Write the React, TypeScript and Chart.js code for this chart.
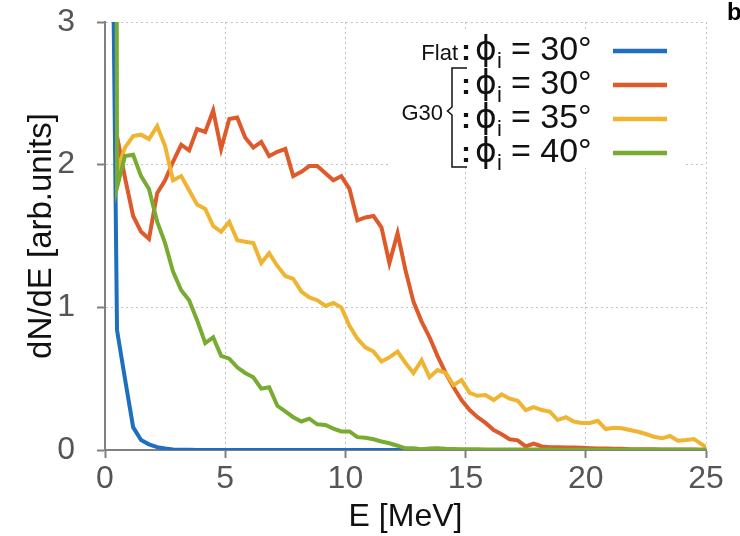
import React, { useEffect, useRef } from 'react';
import { Chart, registerables } from 'chart.js';

Chart.register(...registerables);

// Energy bin centres [MeV]
const energies = [
  0.17, 0.5, 0.83, 1.17, 1.5, 1.83, 2.17, 2.5, 2.83, 3.17,
  3.5, 3.83, 4.17, 4.5, 4.83, 5.17, 5.5, 5.83, 6.17, 6.5,
  6.83, 7.17, 7.5, 7.83, 8.17, 8.5, 8.83, 9.17, 9.5, 9.83,
  10.17, 10.5, 10.83, 11.17, 11.5, 11.83, 12.17, 12.5, 12.83, 13.17,
  13.5, 13.83, 14.17, 14.5, 14.83, 15.17, 15.5, 15.83, 16.17, 16.5,
  16.83, 17.17, 17.5, 17.83, 18.17, 18.5, 18.83, 19.17, 19.5, 19.83,
  20.17, 20.5, 20.83, 21.17, 21.5, 21.83, 22.17, 22.5, 22.83, 23.17,
  23.5, 23.83, 24.17, 24.5, 24.83, 25.17,
];

// Flat : phi_i = 30°
const flat30 = [
  6, 0.84, 0.5, 0.16, 0.07, 0.04, 0.02, 0.01, 0.004, 0.002,
  0.001, 0, 0, 0, 0, 0, 0, 0, 0, 0,
  0, 0, 0, 0, 0, 0, 0, 0, 0, 0,
  0, 0, 0, 0, 0, 0, 0, 0, 0, 0,
  0, 0, 0, 0, 0, 0, 0, 0, 0, 0,
  0, 0, 0, 0, 0, 0, 0, 0, 0, 0,
  0, 0, 0, 0, 0, 0, 0, 0, 0, 0,
  0, 0, 0, 0, 0, 0,
];

// G30 : phi_i = 30°
const g30phi30 = [
  null, 2.2, 1.91, 1.64, 1.53, 1.48, 1.8, 1.89, 2.02, 2.14,
  2.1, 2.25, 2.23, 2.38, 2.11, 2.32, 2.33, 2.19, 2.12, 2.16,
  2.06, 2.09, 2.11, 1.92, 1.95, 1.99, 1.99, 1.94, 1.89, 1.92,
  1.83, 1.61, 1.63, 1.64, 1.56, 1.31, 1.52, 1.26, 1.04, 0.9,
  0.79, 0.66, 0.54, 0.44, 0.35, 0.28, 0.23, 0.19, 0.14, 0.11,
  0.075, 0.068, 0.025, 0.045, 0.025, 0.02, 0.02, 0.018, 0.018, 0.015,
  0.012, 0.01, 0.01, 0.008, 0.008, 0.006, 0.006, 0.005, 0.005, 0.004,
  0.004, 0.003, 0.003, 0.003, 0.002, 0.002,
];

// G30 : phi_i = 35°
const g30phi35 = [
  null, 1.95, 2.12, 2.2, 2.21, 2.18, 2.27, 2.13, 1.89, 1.92,
  1.82, 1.72, 1.69, 1.57, 1.53, 1.6, 1.47, 1.46, 1.45, 1.31,
  1.38, 1.29, 1.22, 1.2, 1.11, 1.07, 1.05, 1.01, 1.03, 1.0,
  0.87, 0.78, 0.72, 0.69, 0.62, 0.65, 0.69, 0.61, 0.54, 0.63,
  0.51, 0.56, 0.54, 0.455, 0.49, 0.4, 0.38, 0.385, 0.35, 0.39,
  0.36, 0.345, 0.28, 0.3, 0.28, 0.27, 0.21, 0.23, 0.2, 0.19,
  0.19, 0.205, 0.147, 0.156, 0.152, 0.14, 0.128, 0.112, 0.093, 0.082,
  0.098, 0.065, 0.07, 0.077, 0.04, 0.0,
];

// G30 : phi_i = 40°
const g30phi40 = [
  40, 1.84, 2.06, 2.07, 1.92, 1.83, 1.6, 1.45, 1.25, 1.12,
  1.05, 0.91, 0.75, 0.79, 0.66, 0.64, 0.58, 0.54, 0.51, 0.43,
  0.44, 0.31, 0.27, 0.23, 0.2, 0.22, 0.18, 0.175, 0.15, 0.13,
  0.13, 0.09, 0.086, 0.075, 0.06, 0.047, 0.03, 0.012, 0.012, 0.006,
  0.01, 0.012, 0.008, 0.007, 0.006, 0.006, 0.005, 0.004, 0.004, 0.004,
  0.004, 0.003, 0.003, 0.003, 0.003, 0.003, 0.002, 0.002, 0.002, 0.002,
  0.002, 0.002, 0.002, 0.002, 0.002, 0.002, 0.002, 0.002, 0.002, 0.002,
  0.002, 0.002, 0.002, 0.002, 0.002, 0.002,
];

const xTicks = [0, 5, 10, 15, 20, 25];
const yTicks = [0, 1, 2, 3];
const legendGroups = ['Flat', 'G30'];
const legendAngles = ['30°', '30°', '35°', '40°'];
const seriesColors = ['#1f6fbf', '#de5a2b', '#efb532', '#78ab32'];

const FAM = '"Liberation Sans", Arial, Helvetica, sans-serif';

export default function App() {
  const ref = useRef<HTMLCanvasElement>(null);

  useEffect(() => {
    const canvas = ref.current!;
    const mk = (ys: (number | null)[]) => energies.map((x, i) => ({ x, y: ys[i] }));

    const legendBox = {
      id: 'legendBox',
      beforeDatasetsDraw(chart: any) {
        const ctx = chart.ctx;
        ctx.save();
        ctx.fillStyle = '#ffffff';
        ctx.fillRect(390, 30, 296, 138);
        ctx.restore();
      },
      afterDraw(chart: any) {
        const ctx = chart.ctx;
        ctx.save();
        ctx.fillStyle = '#111';
        ctx.textBaseline = 'alphabetic';
        // group labels
        ctx.textAlign = 'right';
        ctx.font = `22px ${FAM}`;
        ctx.fillText(legendGroups[0], 458, 60);
        ctx.fillText(legendGroups[1], 443, 120);
        // bracket
        ctx.strokeStyle = '#111';
        ctx.lineWidth = 1.5;
        ctx.beginPath();
        ctx.moveTo(467, 68);
        ctx.lineTo(452, 68);
        ctx.lineTo(452, 107);
        ctx.lineTo(447.5, 111);
        ctx.lineTo(452, 115);
        ctx.lineTo(452, 167);
        ctx.lineTo(467, 167);
        ctx.stroke();
        // rows
        legendAngles.forEach((ang, i) => {
          const by = 60 + i * 34;
          ctx.textAlign = 'left';
          ctx.fillStyle = '#111';
          ctx.font = `bold 30px ${FAM}`;
          ctx.fillText(':', 461, by);
          ctx.font = `33px "DejaVu Sans", ${FAM}`;
          ctx.fillText('ϕ', 475, by);
          ctx.font = `22px ${FAM}`;
          ctx.fillText('i', 497, by + 8);
          ctx.font = `34px ${FAM}`;
          ctx.fillText('= ' + ang, 511, by);
          ctx.strokeStyle = seriesColors[i];
          ctx.lineWidth = 4.5;
          ctx.beginPath();
          ctx.moveTo(613, by - 9);
          ctx.lineTo(667, by - 9);
          ctx.stroke();
        });
        // panel letter
        ctx.fillStyle = '#000';
        ctx.font = `bold 24px ${FAM}`;
        ctx.textAlign = 'left';
        ctx.fillText('b', 727, 20);
        ctx.restore();
      },
    };

    const lineDs = (label: string, data: any[], color: string, order: number) => ({
      label,
      data,
      borderColor: color,
      backgroundColor: color,
      borderWidth: 4,
      pointRadius: 0,
      tension: 0,
      fill: false,
      spanGaps: false,
      order,
    });

    const chart = new Chart(canvas, {
      type: 'line',
      data: {
        datasets: [
          lineDs('Flat: ϕi = 30°', mk(flat30), seriesColors[0], 4),
          lineDs('G30: ϕi = 30°', mk(g30phi30), seriesColors[1], 3),
          lineDs('G30: ϕi = 35°', mk(g30phi35), seriesColors[2], 2),
          lineDs('G30: ϕi = 40°', mk(g30phi40), seriesColors[3], 1),
        ],
      },
      options: {
        responsive: false,
        animation: false,
        devicePixelRatio: 1,
        layout: { padding: { left: 0, right: 34, top: 22, bottom: 0 } },
        plugins: { legend: { display: false }, tooltip: { enabled: false } },
        scales: {
          x: {
            type: 'linear',
            min: 0,
            max: 25,
            afterBuildTicks: (s: any) => {
              s.ticks = xTicks.map((v) => ({ value: v }));
            },
            afterFit: (s: any) => {
              s.height = 86;
            },
            ticks: {
              color: '#555',
              font: { family: FAM, size: 32 },
              padding: 2,
              maxRotation: 0,
              autoSkip: false,
            },
            grid: {
              color: '#c4c4c4',
              lineWidth: 1,
              tickColor: '#808080',
              tickLength: 8,
              tickWidth: 2,
            },
            border: { color: '#808080', width: 2, dash: [2, 3] },
            title: {
              display: true,
              text: 'E [MeV]',
              color: '#111',
              font: { family: FAM, size: 32 },
              padding: { top: 0, bottom: 0 },
            },
          },
          y: {
            type: 'linear',
            min: 0,
            max: 3,
            afterBuildTicks: (s: any) => {
              s.ticks = yTicks.map((v) => ({ value: v }));
            },
            afterFit: (s: any) => {
              s.width = 105;
              s.paddingTop = 0;
              s.paddingBottom = 0;
            },
            ticks: {
              color: '#555',
              font: { family: FAM, size: 32 },
              padding: 22,
            },
            grid: {
              color: '#c4c4c4',
              lineWidth: 1,
              tickColor: '#808080',
              tickLength: 8,
              tickWidth: 2,
            },
            border: { color: '#808080', width: 2, dash: [2, 3] },
            title: {
              display: true,
              text: 'dN/dE [arb.units]',
              color: '#111',
              font: { family: FAM, size: 33 },
              padding: { top: 22, bottom: 0 },
            },
          },
        },
      },
      plugins: [legendBox],
    } as any);

    return () => chart.destroy();
  }, []);

  return (
    <div style={{ position: 'absolute', left: 0, top: 0, width: 740, height: 536, background: '#fff' }}>
      <canvas ref={ref} width={740} height={536} style={{ display: 'block', width: 740, height: 536 }} />
    </div>
  );
}
